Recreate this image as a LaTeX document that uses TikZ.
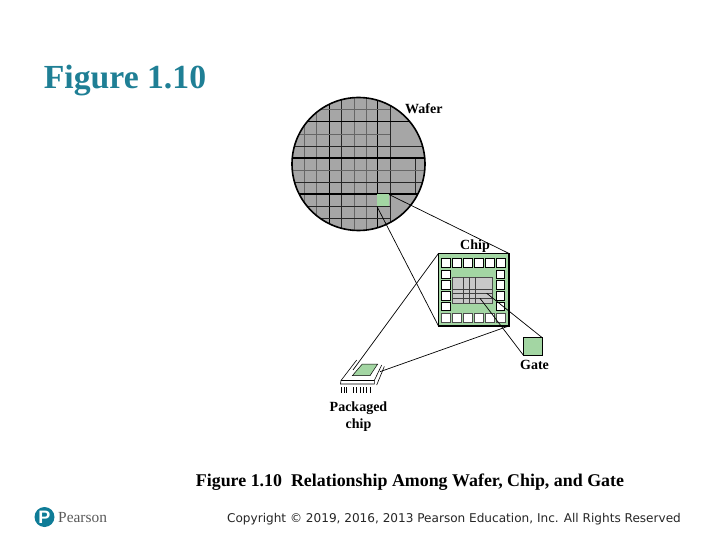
\documentclass[tikz,border=0pt]{standalone}
\usepackage{fontspec}
\setmainfont{Liberation Serif}
\newfontfamily\verdanafont{DejaVu Sans}
\newfontfamily\logofont{Liberation Sans}
\definecolor{titleteal}{HTML}{1F7F95}
\definecolor{logoteal}{HTML}{0F7C97}
\definecolor{partgreen}{HTML}{A3D6A3}
\definecolor{wafergray}{HTML}{A6A6A6}
\definecolor{coregray}{HTML}{C8C8C8}

\begin{document}
\begin{tikzpicture}[x=1pt,y=-1pt]
  \tikzstyle{part}=[rectangle,draw,outer sep=0pt,inner sep=0pt,fill=partgreen]
  \tikzstyle{pad}=[rectangle,draw,line width=1pt,fill=white,minimum size=8.5pt,inner sep=0pt]
  \tikzstyle{label}=[font=\bfseries\fontsize{14}{16}\selectfont,align=center,inner sep=0pt]
  \tikzstyle{link}=[line width=0.7pt]
  \tikzstyle{thin grid}=[line width=0.8pt,draw=black!60]
  \tikzstyle{dark grid}=[line width=0.9pt,draw=black!85]
  \tikzstyle{thick grid}=[line width=1.6pt,draw=black]
  \useasboundingbox (0,0) rectangle (720,540);
  \node [font=\bfseries\fontsize{33.7}{38}\selectfont,text=titleteal,inner sep=0pt] (title) at (125,80.5) {Figure 1.10};
  % wafer with its grid
  \node [circle,fill=wafergray,outer sep=0pt,minimum size=133pt,inner sep=0pt] (wafer) at (358.5,164) {};
  \begin{scope}
    \clip (358.5,164) circle (66.5);
    \foreach \gx in {304,316.7,354,366}
      \draw [thin grid] (\gx,90) -- (\gx,235);
    \foreach \gx in {341.7,390}
      \draw [dark grid] (\gx,90) -- (\gx,235);
    \foreach \gx in {329.3,377.7}
      \draw [thick grid,line width=1.3pt] (\gx,90) -- (\gx,235);
    \draw [dark grid] (415,158) -- (415,194);
    \foreach \gy in {109.3,134}
      \draw [thin grid] (285,\gy) -- (390,\gy);
    \draw [thin grid] (285,170.7) -- (430,170.7);
    \foreach \gy in {146,182.7}
      \draw [dark grid] (285,\gy) -- (430,\gy);
    \foreach \gy in {206.7,218.3}
      \draw [dark grid] (285,\gy) -- (390,\gy);
    \foreach \gy in {121.7,158.3,194.3}
      \draw [thick grid] (285,\gy) -- (430,\gy);
  \end{scope}
  \draw [line width=1.6pt] (wafer.center) circle (66.5);
  \node [part,draw=none,minimum width=12pt,minimum height=12pt] (die) at (383,200.5) {};
  \node [label,anchor=west] (waferlabel) at (405,108.5) {Wafer};
  % chip
  \node [part,line width=1.6pt,minimum width=70.5pt,minimum height=72.5pt] (chip) at (473.7,289.7) {};
  \foreach \i in {0,...,5} {
    \node [pad] (top\i) at (445.8+11*\i,263.2) {};
    \node [pad,draw=black!70,line width=0.6pt] (bottom\i) at (445.8+11*\i,318) {};
  }
  \foreach \i in {0,...,3} {
    \node [pad] (left\i) at (445.8,274.5+10.7*\i) {};
    \node [pad] (right\i) at (500.7,274.5+10.7*\i) {};
  }
  \node [rectangle,draw=black!70,fill=coregray,line width=0.8pt,minimum width=39.6pt,minimum height=26pt,inner sep=0pt] (core) at (472.5,290.3) {};
  \foreach \gx in {463.3,469.3,475}
    \draw [line width=0.7pt,draw=black!75] (\gx,277.3) -- (\gx,303.3);
  \foreach \gy in {289,293.5,298.5}
    \draw [line width=0.7pt,draw=black!75] (452.7,\gy) -- (492.3,\gy);
  \coordinate (cellA) at (486.7,293.3);
  \coordinate (cellB) at (480,298.3);
  \node [label,anchor=south] (chiplabel) at (475,252.5) {Chip};
  % gate
  \node [part,line width=1.3pt,minimum width=18.5pt,minimum height=18pt] (gate) at (533,346.7) {};
  \node [label] (gatelabel) at (534.5,364.5) {Gate};
  % packaged chip
  \coordinate (pkgleft) at (356.7,360);
  \coordinate (pkgright) at (381.7,365);
  \coordinate (pkgfront) at (341,380.5);
  \coordinate (pkgcorner) at (374.3,380.5);
  \draw [line width=0.6pt] (pkgfront) -- (pkgleft);
  \draw [line width=0.6pt] (pkgcorner) -- (pkgright);
  \draw [line width=0.6pt] (376.7,385) -- (384.3,366.5);
  \draw [line width=0.6pt] (pkgfront) -- (pkgcorner) -- (374.3,384) -- (340.5,384) -- cycle;
  \draw [part,line width=0.5pt] (352.3,375.7) -- (362.3,364) -- (377.7,364) -- (370,375.7) -- cycle;
  \foreach \gx in {341.7,344.3,346.7,353.3,356.7,360,363.3,366.7,370}
    \draw [line width=0.6pt] (\gx,387) -- (\gx,393);
  \coordinate (pkgtop) at (353,370);
  \coordinate (pkgside) at (380,371.7);
  \node [label] (pkglabel) at (358.5,417) {Packaged\\[1pt]chip};
  % zoom lines
  \draw [link] (die.north east) -- (chip.north east);
  \draw [link] (die.south west) -- (chip.south west);
  \draw [link] (chip.north west) -- (pkgtop);
  \draw [link] (chip.south east) -- (pkgside);
  \draw [link] (cellA) -- (gate.north east);
  \draw [link] (cellB) -- (gate.south west);
  % caption and footer
  \node [font=\bfseries\fontsize{17.9}{20}\selectfont,inner sep=0pt] (caption) at (410,482) {Figure 1.10\ \ Relationship Among Wafer, Chip, and Gate};
  \node [font=\verdanafont\fontsize{12.08}{14}\selectfont,text=black!85,inner sep=0pt] (copyright) at (454,519) {Copyright © 2019, 2016, 2013 Pearson Education, Inc. All Rights Reserved};
  \node [circle,fill=logoteal,text=white,minimum size=20pt,inner sep=0pt,font=\logofont\bfseries\fontsize{18}{18}\selectfont] (logo) at (44.5,517) {P};
  \node [font=\fontsize{15.4}{17}\selectfont,text=black!65,inner sep=0pt,anchor=west] (brand) at (58,518) {Pearson};
\end{tikzpicture}
\end{document}
